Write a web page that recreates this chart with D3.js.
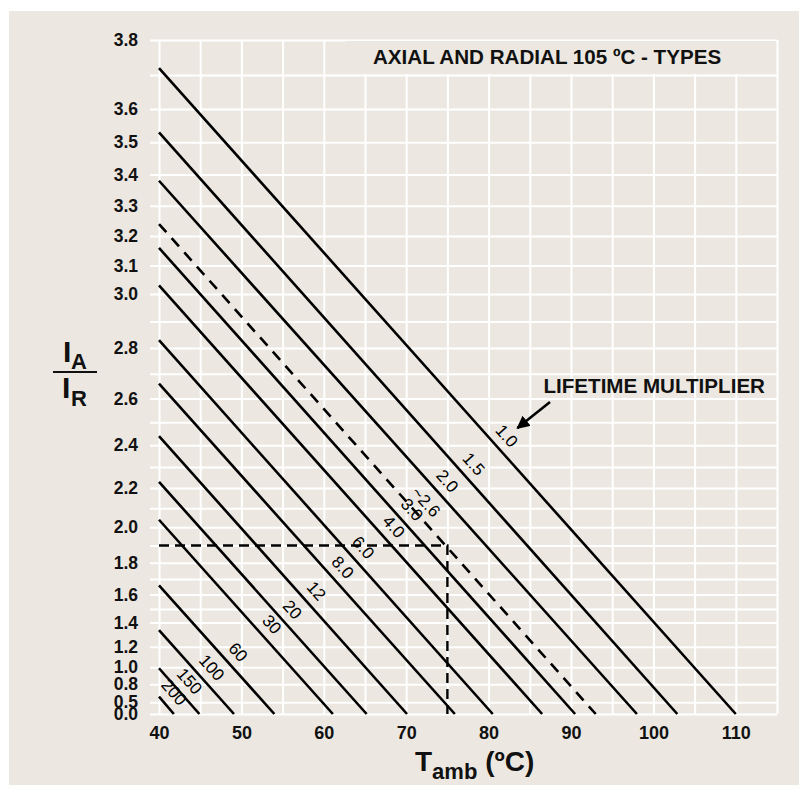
<!DOCTYPE html>
<html>
<head>
<meta charset="utf-8">
<script src="https://cdn.jsdelivr.net/npm/d3@7"></script>
<style>
  html, body { margin: 0; padding: 0; background: #ffffff; }
  svg { display: block; font-family: "Liberation Sans", Arial, Helvetica, sans-serif; }
</style>
</head>
<body>
<div id="chart"></div>
<script>
// lifetime multiplier of each line
const multipliers = ["1.0", "1.5", "2.0", "~2.6", "3.0", "4.0", "6.0", "8.0", "12", "20", "30", "60", "100", "150", "200"];
// IA/IR at 40 ºC and the ambient temp where IA/IR reaches 0
const ratioAt40 = [3.72, 3.53, 3.38, 3.24, 3.16, 3.03, 2.83, 2.66, 2.44, 2.23, 2.04, 1.66, 1.34, 0.99, 0.61];
const tempAtZero = [110, 102.9, 98, 93, 90.5, 86.5, 80.5, 75.9, 70.1, 65.2, 61.1, 54, 49.1, 44.9, 41.8];
// temperature along each line where its label sits
const labelTemp = [80.9, 76.9, 73.7, 71.1, 69.4, 67.2, 63.5, 61, 57.8, 54.9, 52.4, 48.3, 45.1, 42.4, 40.5];
const dashedLine = "~2.6";

// example: 75 ºC with IA/IR = 1.9
const exampleTemp = 75;
const exampleRatio = 1.9;

const xTicks = [40, 50, 60, 70, 80, 90, 100, 110];
const xGrid = d3.range(40, 116, 5);
const yTicks = [0, 0.5, 0.8, 1.0, 1.2, 1.4, 1.6, 1.8, 2.0, 2.2, 2.4, 2.6, 2.8, 3.0, 3.1, 3.2, 3.3, 3.4, 3.5, 3.6, 3.8];
const yGrid = [0, 0.5, 0.8, 1.0, 1.2].concat(d3.range(14, 39).map(d => d / 10));

const width = 799;
const height = 785;
const bg = "#ece8e1";
const font = "'Liberation Sans', Arial, Helvetica, sans-serif";

const svg = d3.select("#chart").append("svg")
    .attr("width", width)
    .attr("height", height);

svg.append("rect")
    .attr("x", 9).attr("y", 11)
    .attr("width", width - 9).attr("height", height - 11)
    .attr("fill", bg);

// scales (y is quadratic: IA² is linear in temperature)
const xScale = d3.scaleLinear().domain([40, 115]).range([159, 777]);
const yScale = d3.scalePow().exponent(2).domain([0, 3.8]).range([714, 40]);

// grid
svg.append("g")
    .attr("class", "xGrid")
    .attr("transform", `translate(0, ${yScale(0)})`)
    .call(d3.axisBottom(xScale).tickValues(xGrid).tickSize(-(yScale(0) - yScale(3.8))).tickFormat(""))
    .call(g => g.select(".domain").remove())
    .call(g => g.selectAll("line").attr("stroke", "#ffffff").attr("stroke-width", 2));

svg.append("g")
    .attr("class", "yGrid")
    .attr("transform", "translate(150, 0)")
    .call(d3.axisLeft(yScale).tickValues(yGrid).tickSize(-(xScale(115) - 150)).tickFormat(""))
    .call(g => g.select(".domain").remove())
    .call(g => g.selectAll("line").attr("stroke", "#ffffff").attr("stroke-width", 2));

// title box hides the vertical grid in the top band
svg.append("rect")
    .attr("x", xScale(62.5) + 1)
    .attr("y", yScale(3.8) + 1)
    .attr("width", xScale(115) - xScale(62.5) - 2)
    .attr("height", yScale(3.7) - yScale(3.8) - 2)
    .attr("fill", bg);

// axes labels
svg.append("g")
    .attr("class", "xAxis")
    .attr("transform", `translate(0, ${yScale(0)})`)
    .call(d3.axisBottom(xScale).tickValues(xTicks).tickSize(0).tickPadding(12).tickFormat(d3.format("d")))
    .call(g => g.select(".domain").remove())
    .call(g => g.selectAll("text")
        .attr("font-family", font).attr("font-size", 18).attr("font-weight", "bold").attr("fill", "#111"));

svg.append("g")
    .attr("class", "yAxis")
    .attr("transform", "translate(150, 0)")
    .call(d3.axisLeft(yScale).tickValues(yTicks).tickSize(0).tickPadding(12).tickFormat(d3.format(".1f")))
    .call(g => g.select(".domain").remove())
    .call(g => g.selectAll("text")
        .attr("font-family", font).attr("font-size", 17.5).attr("font-weight", "bold").attr("fill", "#111"));

// lifetime lines
const lineGen = d3.line().x(d => xScale(d[0])).y(d => yScale(d[1]));
const lines = multipliers.map((m, i) => ({
    name: m,
    r0: ratioAt40[i],
    tEnd: tempAtZero[i],
    tLabel: labelTemp[i]
}));

svg.selectAll(".lifeLine")
    .data(lines)
    .enter()
    .append("path")
    .attr("class", "lifeLine")
    .attr("d", d => lineGen([[40, d.r0], [d.tEnd, 0]]))
    .attr("fill", "none")
    .attr("stroke", "#000")
    .attr("stroke-width", 2.6)
    .attr("stroke-dasharray", d => d.name === dashedLine ? "11,8" : null);

// labels along the lines
const offset = 14;
svg.selectAll(".lifeLabel")
    .data(lines)
    .enter()
    .append("text")
    .attr("class", "lifeLabel")
    .attr("transform", d => {
        const x0 = xScale(40), y0 = yScale(d.r0);
        const x1 = xScale(d.tEnd), y1 = yScale(0);
        const a = Math.atan2(y1 - y0, x1 - x0);
        const r = Math.sqrt(d.r0 * d.r0 * (d.tEnd - d.tLabel) / (d.tEnd - 40));
        const px = xScale(d.tLabel) + offset * Math.sin(a);
        const py = yScale(r) - offset * Math.cos(a);
        return `translate(${px}, ${py}) rotate(${a * 180 / Math.PI})`;
    })
    .attr("text-anchor", "middle")
    .attr("dominant-baseline", "central")
    .attr("font-family", font)
    .attr("font-size", 17)
    .attr("fill", "#000")
    .text(d => d.name);

// example dashed reading
svg.append("path")
    .attr("d", lineGen([[40, exampleRatio], [exampleTemp, exampleRatio], [exampleTemp, 0]]))
    .attr("fill", "none")
    .attr("stroke", "#000")
    .attr("stroke-width", 2.4)
    .attr("stroke-dasharray", "10,6");

// title
svg.append("text")
    .attr("x", 373)
    .attr("y", 64)
    .attr("font-family", font)
    .attr("font-size", 20.6)
    .attr("font-weight", "bold")
    .attr("fill", "#111")
    .text("AXIAL AND RADIAL 105 ºC - TYPES");

// lifetime multiplier annotation
svg.append("text")
    .attr("x", 765)
    .attr("y", 393)
    .attr("text-anchor", "end")
    .attr("font-family", font)
    .attr("font-size", 20.6)
    .attr("font-weight", "bold")
    .attr("fill", "#111")
    .text("LIFETIME MULTIPLIER");

svg.append("defs").append("marker")
    .attr("id", "arrowHead")
    .attr("viewBox", "0 0 10 10")
    .attr("refX", 9).attr("refY", 5)
    .attr("markerWidth", 5).attr("markerHeight", 5)
    .attr("markerUnits", "strokeWidth")
    .attr("orient", "auto")
    .append("path")
    .attr("d", "M0,0 L10,5 L0,10 Z")
    .attr("fill", "#000");

svg.append("line")
    .attr("x1", xScale(87.45)).attr("y1", yScale(2.585))
    .attr("x2", xScale(83.5)).attr("y2", yScale(2.475))
    .attr("stroke", "#000")
    .attr("stroke-width", 2.6)
    .attr("marker-end", "url(#arrowHead)");

// y axis label IA / IR
const yLab = svg.append("g").attr("class", "yLabel");
yLab.append("text").attr("x", 63).attr("y", 362)
    .attr("font-family", font).attr("font-size", 30).attr("font-weight", "bold").attr("fill", "#111").text("I");
yLab.append("text").attr("x", 71).attr("y", 369)
    .attr("font-family", font).attr("font-size", 22).attr("font-weight", "bold").attr("fill", "#111").text("A");
yLab.append("line").attr("x1", 53).attr("x2", 97).attr("y1", 372).attr("y2", 372)
    .attr("stroke", "#111").attr("stroke-width", 2);
yLab.append("text").attr("x", 62).attr("y", 398)
    .attr("font-family", font).attr("font-size", 30).attr("font-weight", "bold").attr("fill", "#111").text("I");
yLab.append("text").attr("x", 71).attr("y", 406)
    .attr("font-family", font).attr("font-size", 22).attr("font-weight", "bold").attr("fill", "#111").text("R");

// x axis label T amb (ºC)
const xLab = svg.append("text")
    .attr("x", 415).attr("y", 771)
    .attr("font-family", font).attr("font-weight", "bold").attr("fill", "#111");
xLab.append("tspan").attr("font-size", 28).text("T");
xLab.append("tspan").attr("font-size", 22).attr("dy", 8).text("amb");
xLab.append("tspan").attr("font-size", 28).attr("dy", -8).text(" (ºC)");
</script>
</body>
</html>
